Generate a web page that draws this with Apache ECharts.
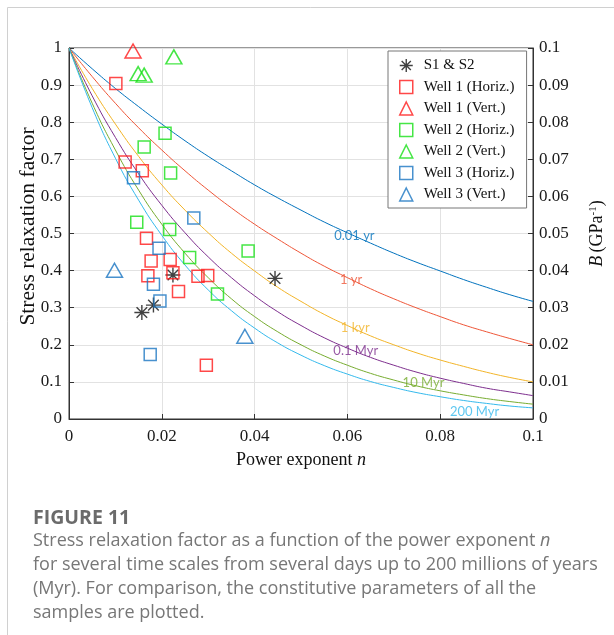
<!DOCTYPE html>
<html>
<head>
<meta charset="utf-8">
<script src="https://cdn.jsdelivr.net/npm/echarts@6/dist/echarts.min.js"></script>
<style>
  html, body { margin: 0; padding: 0; background: #fff; }
  #chart { width: 614px; height: 635px; }
</style>
</head>
<body>
<div id="chart"></div>
<script>
// Power exponent n at which each relaxation curve is sampled
const nGrid = [0, 0.005, 0.01, 0.015, 0.02, 0.025, 0.03, 0.035, 0.04, 0.045, 0.05,
               0.055, 0.06, 0.065, 0.07, 0.075, 0.08, 0.085, 0.09, 0.095, 0.1];

// Stress relaxation factor for each time scale
const curve001yr  = [1, 0.944, 0.891, 0.842, 0.795, 0.750, 0.708, 0.669, 0.631, 0.596, 0.563,
                     0.531, 0.502, 0.474, 0.447, 0.422, 0.399, 0.376, 0.355, 0.335, 0.317];
const curve1yr    = [1, 0.923, 0.851, 0.785, 0.725, 0.669, 0.617, 0.569, 0.525, 0.485, 0.447,
                     0.412, 0.381, 0.351, 0.324, 0.299, 0.276, 0.254, 0.235, 0.217, 0.200];
const curve1kyr   = [1, 0.891, 0.795, 0.708, 0.631, 0.563, 0.502, 0.447, 0.399, 0.355, 0.317,
                     0.282, 0.252, 0.224, 0.200, 0.178, 0.159, 0.142, 0.126, 0.112, 0.100];
const curve01Myr  = [1, 0.871, 0.759, 0.661, 0.576, 0.502, 0.437, 0.381, 0.332, 0.289, 0.252,
                     0.219, 0.191, 0.166, 0.145, 0.126, 0.110, 0.096, 0.083, 0.073, 0.063];
const curve10Myr  = [1, 0.851, 0.725, 0.617, 0.525, 0.447, 0.381, 0.324, 0.276, 0.235, 0.200,
                     0.170, 0.145, 0.123, 0.105, 0.089, 0.076, 0.065, 0.055, 0.047, 0.040];
const curve200Myr = [1, 0.839, 0.703, 0.590, 0.495, 0.415, 0.348, 0.292, 0.245, 0.205, 0.172,
                     0.144, 0.121, 0.101, 0.085, 0.071, 0.060, 0.050, 0.042, 0.035, 0.030];

const curveNames = ['0.01 yr', '1 yr', '1 kyr', '0.1 Myr', '10 Myr', '200 Myr'];
// where each curve name is written, as [n, factor]
const curveLabelAt = [[0.0615, 0.494], [0.0608, 0.374], [0.0617, 0.245], [0.0618, 0.184], [0.0764, 0.097], [0.0874, 0.019]];

// Sample constitutive parameters: [power exponent n, stress relaxation factor]
const samplesS1S2 = [[0.0224, 0.388], [0.0444, 0.379], [0.0182, 0.307], [0.0157, 0.287]];
const well1Horiz = [[0.0101, 0.904], [0.0121, 0.693], [0.0158, 0.669], [0.0167, 0.487], [0.0177, 0.426],
                    [0.0218, 0.430], [0.0224, 0.394], [0.0170, 0.386], [0.0278, 0.385], [0.0299, 0.387],
                    [0.0236, 0.344], [0.0296, 0.145]];
const well1Vert  = [[0.0138, 0.992]];
const well2Horiz = [[0.0207, 0.770], [0.0162, 0.733], [0.0219, 0.663], [0.0146, 0.530], [0.0217, 0.511],
                    [0.0386, 0.453], [0.0260, 0.435], [0.0320, 0.337]];
const well2Vert  = [[0.0149, 0.931], [0.0162, 0.927], [0.0226, 0.976]];
const well3Horiz = [[0.0139, 0.650], [0.0269, 0.542], [0.0194, 0.460], [0.0182, 0.363], [0.0196, 0.318],
                    [0.0175, 0.174]];
const well3Vert  = [[0.0098, 0.401], [0.0379, 0.223]];

const SERIF = '"Liberation Serif", "Times New Roman", serif';
const SANS = '"Open Sans", sans-serif';
const curveColors = ['#0072BD', '#EE5638', '#F2B428', '#7E2F8E', '#77AC30', '#34B9EC'];
const curveData = [curve001yr, curve1yr, curve1kyr, curve01Myr, curve10Myr, curve200Myr];
const asterisk = 'path://M10,0L10,20M0,10L20,10M2.93,2.93L17.07,17.07M2.93,17.07L17.07,2.93';

function pairs(xs, ys) { return xs.map((x, i) => [x, ys[i]]); }

const curveSeries = curveData.map((ys, i) => ({
  name: curveNames[i],
  type: 'line',
  data: pairs(nGrid, ys),
  smooth: true,
  showSymbol: false,
  symbol: 'none',
  silent: true,
  z: 2,
  lineStyle: { color: curveColors[i], width: 1 },
  itemStyle: { color: curveColors[i] }
}));

const curveLabelSeries = {
  type: 'scatter',
  silent: true,
  symbolSize: 0,
  z: 3,
  data: curveLabelAt.map((p, i) => ({
    value: p,
    label: {
      show: true, position: 'inside', formatter: curveNames[i],
      color: curveColors[i], fontFamily: 'Lato, "Open Sans", sans-serif', fontSize: 13
    }
  }))
};

function marks(name, data, symbol, size, color, width) {
  return {
    name, type: 'scatter', data, symbol, symbolSize: size, z: 5,
    itemStyle: { color: 'rgba(0,0,0,0)', borderColor: color, borderWidth: width }
  };
}

const sampleSeries = [
  marks('S1 & S2', samplesS1S2, asterisk, 15, '#111', 1.4),
  marks('Well 1 (Horiz.)', well1Horiz, 'rect', 12, '#FF1A1A', 1.5),
  marks('Well 1 (Vert.)', well1Vert, 'triangle', [16, 14], '#FF1A1A', 1.5),
  marks('Well 2 (Horiz.)', well2Horiz, 'rect', 12, '#16E016', 1.5),
  marks('Well 2 (Vert.)', well2Vert, 'triangle', [16, 14], '#16E016', 1.5),
  marks('Well 3 (Horiz.)', well3Horiz, 'rect', 12, '#1A75C2', 1.5),
  marks('Well 3 (Vert.)', well3Vert, 'triangle', [16, 14], '#1A75C2', 1.5)
];

const chart = echarts.init(document.getElementById('chart'), null, { renderer: 'canvas' });

const axisText = { fontFamily: SERIF, fontSize: 17, color: '#1a1a1a' };

chart.setOption({
  animation: false,
  backgroundColor: '#fff',
  grid: { left: 69, top: 48, right: 78, bottom: 216, show: true, borderColor: '#333', borderWidth: 1, backgroundColor: 'transparent' },
  legend: {
    data: sampleSeries.map(s => s.name),
    orient: 'vertical',
    left: 388, top: 51,
    padding: [7, 12, 6, 11],
    itemGap: 6.5,
    itemWidth: 13, itemHeight: 13,
    backgroundColor: '#fff',
    borderColor: '#777', borderWidth: 1,
    selectedMode: false,
    textStyle: { fontFamily: SERIF, fontSize: 15, lineHeight: 14, color: '#111', padding: [0, 0, 0, 6] },
    itemStyle: { borderWidth: 'inherit' }
  },
  xAxis: {
    type: 'value', min: 0, max: 0.1, interval: 0.02,
    name: '{t|Power exponent }{i|n}',
    nameLocation: 'middle', nameGap: 32,
    nameTextStyle: {
      rich: {
        t: { fontFamily: SERIF, fontSize: 18, color: '#111' },
        i: { fontFamily: SERIF, fontSize: 18, color: '#111', fontStyle: 'italic' }
      }
    },
    axisLine: { lineStyle: { color: '#333', width: 1 } },
    axisTick: { inside: true, length: 5, lineStyle: { color: '#333' } },
    axisLabel: Object.assign({ margin: 9 }, axisText),
    splitLine: { show: true, lineStyle: { color: '#e2e2e2', width: 1 } }
  },
  yAxis: [{
    type: 'value', min: 0, max: 1, interval: 0.1,
    name: 'Stress relaxation factor',
    nameLocation: 'middle', nameGap: 30, nameRotate: 90, nameMoveOverlap: false,
    nameTextStyle: { fontFamily: SERIF, fontSize: 21.5, color: '#111', padding: [0, 0, 0, 14] },
    axisLine: { show: true, lineStyle: { color: '#333', width: 1 } },
    axisTick: { show: true, inside: true, length: 5, lineStyle: { color: '#333' } },
    axisLabel: Object.assign({ margin: 7 }, axisText),
    splitLine: { show: true, lineStyle: { color: '#e2e2e2', width: 1 } }
  }, {
    type: 'value', min: 0, max: 0.1, interval: 0.01, position: 'right',
    name: '{b|B} {t|(GPa}{s|-1}{t|)}',
    nameLocation: 'middle', nameGap: 55, nameRotate: 90,
    nameTextStyle: {
      rich: {
        b: { fontFamily: SERIF, fontSize: 18, color: '#111', fontStyle: 'italic', verticalAlign: 'bottom' },
        t: { fontFamily: SERIF, fontSize: 18, color: '#111', verticalAlign: 'bottom' },
        s: { fontFamily: SERIF, fontSize: 11, color: '#111', verticalAlign: 'top' }
      }
    },
    axisLine: { show: true, lineStyle: { color: '#333', width: 1 } },
    axisTick: { show: true, inside: true, length: 5, lineStyle: { color: '#333' } },
    axisLabel: Object.assign({ margin: 6 }, axisText),
    splitLine: { show: false }
  }],
  series: curveSeries.concat([curveLabelSeries], sampleSeries),
  graphic: [
    { type: 'line', shape: { x1: 7.5, y1: 7.5, x2: 614, y2: 7.5 }, style: { stroke: '#d0d0d0', lineWidth: 1 }, silent: true },
    { type: 'line', shape: { x1: 7.5, y1: 7.5, x2: 7.5, y2: 635 }, style: { stroke: '#d0d0d0', lineWidth: 1 }, silent: true },
    { type: 'text', left: 33, top: 508, silent: true,
      style: { text: 'FIGURE 11', fontFamily: SANS, fontWeight: 'bold', fontSize: 19.5, fill: '#6b6b6b' } },
    { type: 'text', left: 33, top: 532, silent: true,
      style: {
        text: '{a|Stress relaxation factor as a function of the power exponent }{i|n}\n' +
              '{a|for several time scales from several days up to 200 millions of years}\n' +
              '{a|(Myr). For comparison, the constitutive parameters of all the}\n' +
              '{a|samples are plotted.}',
        rich: {
          a: { fontFamily: SANS, fontSize: 18, fill: '#777', lineHeight: 23.8 },
          i: { fontFamily: SANS, fontSize: 18, fill: '#777', fontStyle: 'italic', lineHeight: 23.8 }
        }
      } }
  ]
});
</script>
</body>
</html>
